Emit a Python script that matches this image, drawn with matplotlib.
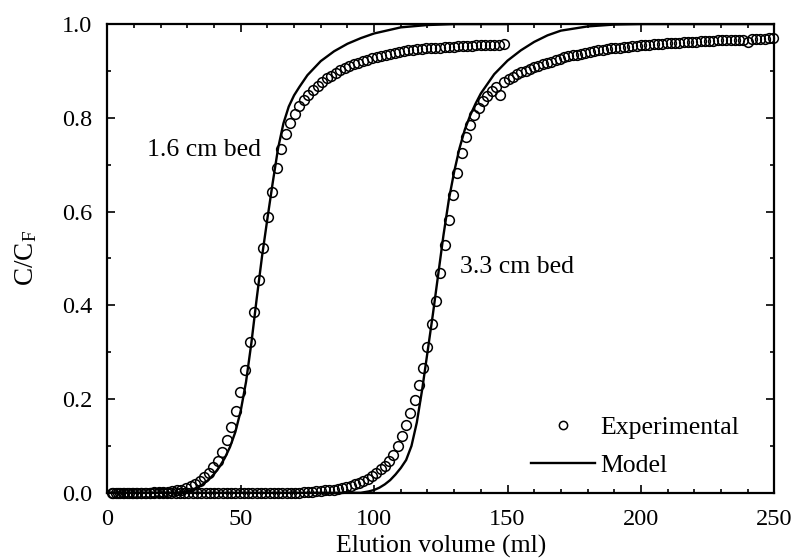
"""
Breakthrough curves for the 1.6 cm and 3.3 cm beds.
Open circles are measured C/CF per collected fraction, solid lines the model fit.
"""

import matplotlib
matplotlib.use("Agg")
import matplotlib.pyplot as plt
from matplotlib.ticker import MultipleLocator

plt.rcParams["font.family"] = ["Liberation Serif", "DejaVu Serif"]
plt.rcParams["mathtext.fontset"] = "stix"

# --- Experimental data: 1.6 cm bed ---
vol_short = [
    2.3, 4.0, 5.7, 7.4, 9.1, 10.8, 12.5, 14.2, 15.9, 17.6,
    19.3, 21.0, 22.7, 24.4, 26.1, 27.8, 29.5, 31.2, 32.9, 34.6,
    36.3, 38.0, 39.7, 41.4, 43.1, 44.8, 46.5, 48.2, 49.9, 51.6,
    53.3, 55.0, 56.7, 58.4, 60.1, 61.8, 63.5, 65.2, 66.9, 68.6,
    70.3, 72.0, 73.7, 75.4, 77.1, 78.8, 80.5, 82.2, 83.9, 85.6,
    87.3, 89.0, 90.7, 92.4, 94.1, 95.8, 97.5, 99.2, 100.9, 102.6,
    104.3, 106.0, 107.7, 109.4, 111.1, 112.8, 114.5, 116.2, 117.9, 119.6,
    121.3, 123.0, 124.7, 126.4, 128.1, 129.8, 131.5, 133.2, 134.9, 136.6,
    138.3, 140.0, 141.7, 143.4, 145.1, 146.8, 148.5,
]
c_short = [
    0, 0, 0, 0, 0, 0, 0, 0, 0, 0.001,
    0.001, 0.002, 0.002, 0.003, 0.005, 0.007, 0.010, 0.014, 0.019, 0.025,
    0.033, 0.042, 0.054, 0.068, 0.088, 0.113, 0.140, 0.175, 0.215, 0.263,
    0.322, 0.386, 0.455, 0.522, 0.588, 0.642, 0.692, 0.734, 0.766, 0.788,
    0.808, 0.825, 0.838, 0.849, 0.859, 0.868, 0.876, 0.884, 0.890, 0.896,
    0.901, 0.906, 0.910, 0.914, 0.918, 0.921, 0.924, 0.927, 0.930, 0.932,
    0.935, 0.937, 0.939, 0.941, 0.942, 0.944, 0.945, 0.946, 0.947, 0.948,
    0.949, 0.950, 0.950, 0.951, 0.952, 0.952, 0.953, 0.953, 0.954, 0.954,
    0.955, 0.955, 0.955, 0.956, 0.956, 0.956, 0.957,
]

# --- Experimental data: 3.3 cm bed ---
vol_long = [
    1.6, 3.2, 4.8, 6.4, 8.0, 9.6, 11.2, 12.8, 14.4, 16.0,
    17.6, 19.2, 20.8, 22.4, 24.0, 25.6, 27.2, 28.8, 30.4, 32.0,
    33.6, 35.2, 36.8, 38.4, 40.0, 41.6, 43.2, 44.8, 46.4, 48.0,
    49.6, 51.2, 52.8, 54.4, 56.0, 57.6, 59.2, 60.8, 62.4, 64.0,
    65.6, 67.2, 68.8, 70.4, 72.0, 73.6, 75.2, 76.8, 78.4, 80.0,
    81.6, 83.2, 84.8, 86.4, 88.0, 89.6, 91.2, 92.8, 94.4, 96.0,
    97.6, 99.2, 100.8, 102.4, 104.0, 105.6, 107.2, 108.8, 110.4, 112.0,
    113.6, 115.2, 116.8, 118.4, 120.0, 121.6, 123.2, 124.8, 126.4, 128.0,
    129.6, 131.2, 132.8, 134.4, 136.0, 137.6, 139.2, 140.8, 142.4, 144.0,
    145.6, 147.2, 148.8, 150.4, 152.0, 153.6, 155.2, 156.8, 158.4, 160.0,
    161.6, 163.2, 164.8, 166.4, 168.0, 169.6, 171.2, 172.8, 174.4, 176.0,
    177.6, 179.2, 180.8, 182.4, 184.0, 185.6, 187.2, 188.8, 190.4, 192.0,
    193.6, 195.2, 196.8, 198.4, 200.0, 201.6, 203.2, 204.8, 206.4, 208.0,
    209.6, 211.2, 212.8, 214.4, 216.0, 217.6, 219.2, 220.8, 222.4, 224.0,
    225.6, 227.2, 228.8, 230.4, 232.0, 233.6, 235.2, 236.8, 238.4, 240.0,
    241.6, 243.2, 244.8, 246.4, 248.0, 249.6,
]
c_long = [
    0, 0, 0, 0, 0, 0, 0, 0, 0, 0,
    0, 0, 0, 0, 0, 0, 0, 0, 0, 0,
    0, 0, 0, 0, 0, 0, 0, 0, 0, 0,
    0, 0, 0, 0, 0, 0, 0, 0, 0, 0,
    0, 0, 0, 0, 0, 0.001, 0.002, 0.002, 0.003, 0.004,
    0.005, 0.006, 0.007, 0.009, 0.011, 0.013, 0.015, 0.018, 0.021, 0.025,
    0.030, 0.036, 0.042, 0.050, 0.058, 0.068, 0.080, 0.100, 0.122, 0.145,
    0.170, 0.198, 0.230, 0.266, 0.310, 0.360, 0.410, 0.470, 0.529, 0.582,
    0.635, 0.682, 0.724, 0.760, 0.785, 0.806, 0.822, 0.835, 0.847, 0.857,
    0.866, 0.849, 0.877, 0.883, 0.888, 0.893, 0.897, 0.900, 0.904, 0.908,
    0.911, 0.914, 0.917, 0.920, 0.923, 0.926, 0.929, 0.931, 0.933, 0.935,
    0.937, 0.939, 0.941, 0.942, 0.944, 0.945, 0.946, 0.948, 0.949, 0.950,
    0.951, 0.952, 0.953, 0.954, 0.955, 0.955, 0.956, 0.957, 0.958, 0.958,
    0.959, 0.959, 0.960, 0.960, 0.961, 0.961, 0.962, 0.962, 0.963, 0.963,
    0.964, 0.964, 0.965, 0.965, 0.965, 0.966, 0.966, 0.967, 0.967, 0.962,
    0.968, 0.968, 0.969, 0.969, 0.970, 0.970,
]

# --- Model curves ---
model_vol_short = [0, 26, 28, 30, 32, 34, 36, 38, 40, 42, 44, 46, 48, 50, 52,
                   54, 56, 58, 60, 62, 64, 66, 68, 70, 72, 75, 80, 85, 90, 95,
                   100, 110, 120, 130, 150]
model_c_short = [0, 0, 0.001, 0.003, 0.007, 0.012, 0.019, 0.028, 0.040, 0.055,
                 0.074, 0.098, 0.130, 0.175, 0.237, 0.320, 0.415, 0.505, 0.585,
                 0.662, 0.735, 0.788, 0.824, 0.848, 0.866, 0.891, 0.921, 0.942,
                 0.958, 0.970, 0.980, 0.993, 0.998, 1.0, 1.0]

model_vol_long = [0, 95, 98, 100, 102, 104, 106, 108, 110, 112, 114, 116, 118,
                  120, 122, 124, 126, 128, 130, 132, 134, 136, 138, 140, 145,
                  150, 155, 160, 165, 170, 180, 190, 200, 250]
model_c_long = [0, 0, 0.003, 0.006, 0.011, 0.018, 0.027, 0.039, 0.053, 0.070,
                0.100, 0.150, 0.220, 0.300, 0.380, 0.465, 0.550, 0.625, 0.685,
                0.735, 0.775, 0.805, 0.830, 0.852, 0.893, 0.922, 0.944, 0.962,
                0.976, 0.986, 0.995, 0.999, 1.0, 1.0]

# --- Plot ---
fig = plt.figure(figsize=(7.95, 5.6), dpi=100)
ax = fig.add_axes([0.135, 0.12, 0.839, 0.837])

marker_kw = dict(linestyle="none", marker="o", markersize=7.0,
                 markerfacecolor="none", markeredgecolor="black",
                 markeredgewidth=1.1, clip_on=False, zorder=3)

ax.plot(model_vol_short, model_c_short, color="black", linewidth=1.7, zorder=2)
ax.plot(model_vol_long, model_c_long, color="black", linewidth=1.7, zorder=2,
        label="Model")
ax.plot(vol_short, c_short, **marker_kw)
ax.plot(vol_long, c_long, label="Experimental", **marker_kw)

ax.set_xlim(0, 250)
ax.set_ylim(0, 1.0)

ax.xaxis.set_major_locator(MultipleLocator(50))
ax.xaxis.set_minor_locator(MultipleLocator(10))
ax.yaxis.set_major_locator(MultipleLocator(0.2))
ax.yaxis.set_minor_locator(MultipleLocator(0.1))
ax.yaxis.set_major_formatter(plt.FormatStrFormatter("%.1f"))

ax.tick_params(which="both", direction="in", top=True, right=True,
               width=1.2, labelsize=17.5)
ax.tick_params(axis="x", pad=12)
ax.tick_params(axis="y", pad=11)
ax.tick_params(which="major", length=6)
ax.tick_params(which="minor", length=3)
for spine in ax.spines.values():
    spine.set_linewidth(1.6)

ax.set_xlabel("Elution volume (ml)", fontsize=18.5, labelpad=3)
ax.set_ylabel(r"C/C$_\mathregular{F}$", fontsize=19.5, labelpad=16)

ax.text(14.9, 0.731, "1.6 cm bed", fontsize=18.5, ha="left", va="center")
ax.text(132.2, 0.482, "3.3 cm bed", fontsize=18.5, ha="left", va="center")

# Legend: circle first, then model line
handles, labels = ax.get_legend_handles_labels()
order = [labels.index("Experimental"), labels.index("Model")]
ax.legend([handles[i] for i in order], [labels[i] for i in order],
          loc="upper left", bbox_to_anchor=(0.635, 0.163), frameon=False,
          fontsize=18.5, handlelength=2.5, handletextpad=0.2,
          labelspacing=0.55, borderpad=0, borderaxespad=0, numpoints=1,
          markerscale=0.85)

fig.savefig("out.png", dpi=100, facecolor="white")
plt.close()
